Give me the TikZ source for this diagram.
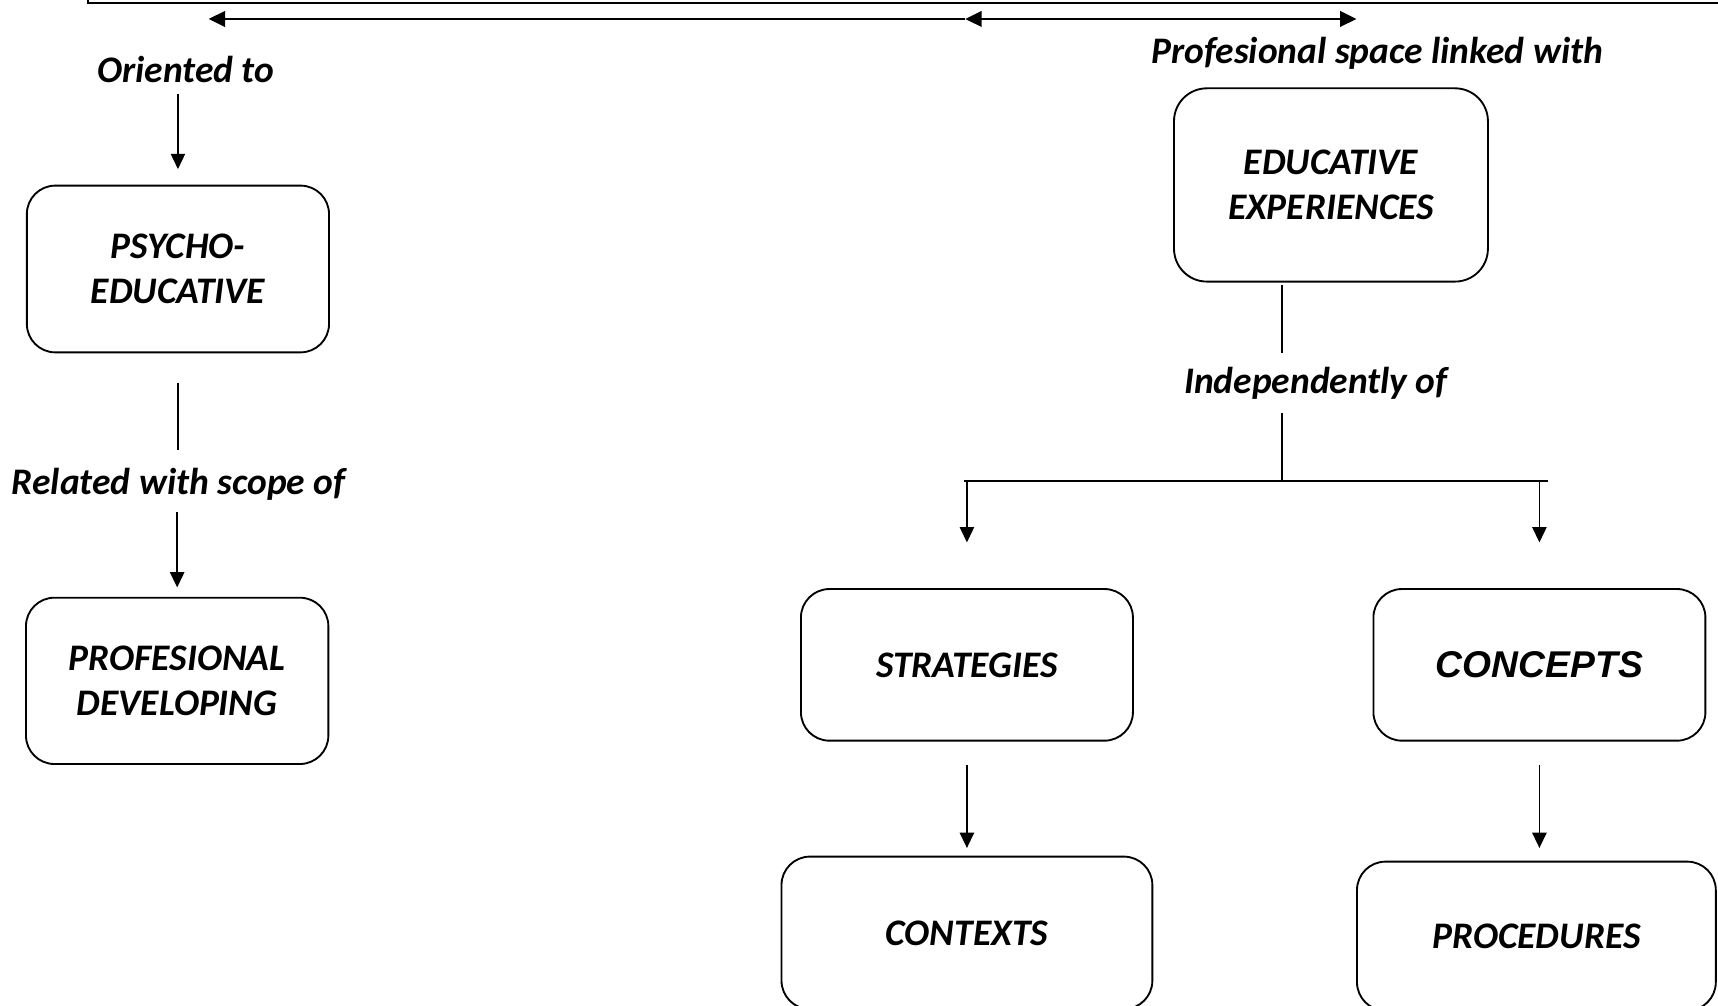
\documentclass[tikz,border=0pt]{standalone}
\usepackage{fontspec}
\setmainfont{Carlito}
\newfontfamily\arialfont{Liberation Sans}
\usetikzlibrary{arrows.meta}
\tikzset{toptip/.tip={Triangle[length=15pt,width=14pt]}}
\begin{document}
\begin{tikzpicture}[x=1pt,y=-1pt,
  txt/.style={font=\fontsize{34.2}{41}\selectfont\bfseries\itshape},
  box/.style={txt, draw, line width=1.7pt, rounded corners=26pt, align=center, inner sep=0pt},
  lab/.style={txt, inner sep=0pt, anchor=base},
  arr/.style={line width=1.6pt, -{Triangle[length=14pt,width=13pt]}},
  conn/.style={line width=1.3pt},
  toparr/.style={line width=2.6pt}]
\useasboundingbox (0,0) rectangle (1568,918);
\clip (0,0) rectangle (1568,918);

% top (cut) frame
\node[draw, line width=1.8pt, minimum width=1700pt, minimum height=100pt, inner sep=0pt, anchor=south west] (topbox) at (79.8,3.2) {};

% top arrows
\coordinate (tl) at (190.4,17.3);
\coordinate (tm) at (880.9,17.3);
\coordinate (tr) at (1238.1,17.3);
\draw[toparr, toptip-] (tl) -- (tm);
\draw[toparr, toptip-toptip] (tm) -- (tr);

% left column
\node[lab] (ori) at (169.5,75) {Oriented to};
\node[box, minimum width=275.8pt, minimum height=152.2pt] (psy) at (162.4,245.5) {PSYCHO-\\EDUCATIVE};
\node[lab] (rel) at (163,451.5) {Related with scope of};
\node[box, minimum width=276pt, minimum height=151.8pt] (prof) at (161.7,621.4) {PROFESIONAL\\DEVELOPING};

\draw[arr] ([yshift=82.8pt]psy.north) -- ([yshift=14.2pt]psy.north);
\draw[conn] ([yshift=-26.7pt]psy.south) -- ([yshift=-88pt]psy.south);
\draw[arr] ([yshift=77pt]prof.north) -- ([yshift=8.5pt]prof.north);

% right part
\node[lab] (prs) at (1257,58.3) {Profesional space linked with};
\node[box, minimum width=286.5pt, minimum height=176.4pt, rounded corners=30pt] (edu) at (1214.75,168.8) {EDUCATIVE\\EXPERIENCES};
\node[lab] (ind) at (1201,359.5) {Independently of};
\node[box, minimum width=303pt, minimum height=138.4pt] (str) at (882.5,606.8) {STRATEGIES};
\node[box, minimum width=303pt, minimum height=138.4pt, font=\arialfont\fontsize{34}{40}\selectfont\bfseries\itshape] (con) at (1405,606.8) {CONCEPTS};
\node[box, minimum width=338.5pt, minimum height=139.2pt] (ctx) at (882.5,851.4) {CONTEXTS};
\node[box, minimum width=327.5pt, minimum height=136pt] (pro) at (1402.25,854.4) {PROCEDURES};

\coordinate (bx) at (1170,439);
\coordinate (bl) at (880,439);
\coordinate (br) at (1412.4,439);
\draw[conn] (edu.south -| bx) ++(0,2.2) -- ++(0,61.8);
\draw[conn] (bx) ++(0,-61.8) -- (bx);
\draw[line width=1.8pt] (bl) -- (br);
\draw[arr] (str.north) ++(0,-96.6) -- ++(0,54.9);
\draw[arr] (con.north) ++(0,-96.6) -- ++(0,54.9);
\draw[arr] ([yshift=-21.3pt]str.south) -- ([yshift=7pt]ctx.north);
\draw[arr] ([yshift=-21.3pt]con.south) -- ([yshift=11.6pt]pro.north -| con.south);
\end{tikzpicture}
\end{document}
